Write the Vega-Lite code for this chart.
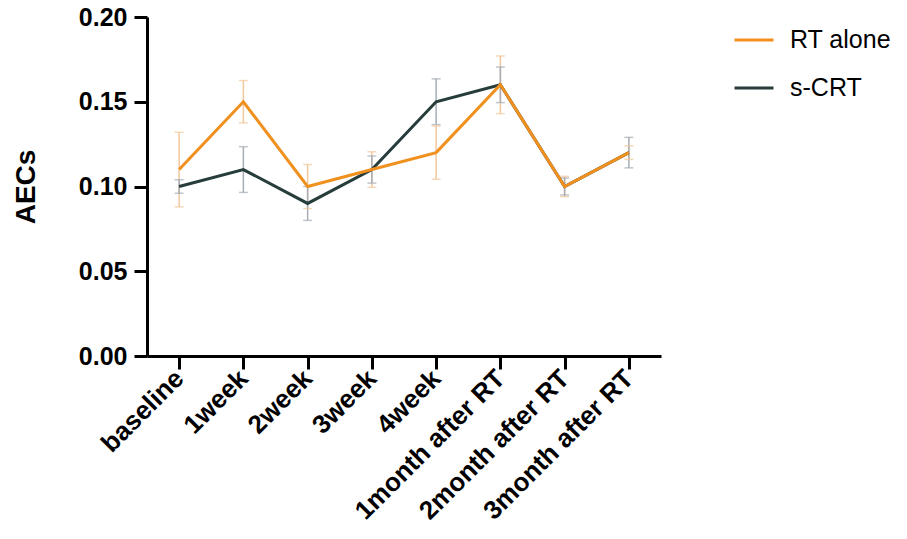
{
  "$schema": "https://vega.github.io/schema/vega-lite/v6.json",
  "autosize": "none",
  "width": 514,
  "height": 339,
  "padding": {"left": 147, "top": 17, "right": 246, "bottom": 183},
  "background": "white",
  "config": {
    "font": "Liberation Sans",
    "view": {"stroke": null}
  },
  "data": {
    "values": [
      {"time": "baseline", "group": "RT alone", "mean": 0.11, "lower": 0.088, "upper": 0.132},
      {"time": "1week", "group": "RT alone", "mean": 0.15, "lower": 0.1375, "upper": 0.1625},
      {"time": "2week", "group": "RT alone", "mean": 0.10, "lower": 0.087, "upper": 0.113},
      {"time": "3week", "group": "RT alone", "mean": 0.11, "lower": 0.0995, "upper": 0.1205},
      {"time": "4week", "group": "RT alone", "mean": 0.12, "lower": 0.1043, "upper": 0.1357},
      {"time": "1month after RT", "group": "RT alone", "mean": 0.16, "lower": 0.143, "upper": 0.177},
      {"time": "2month after RT", "group": "RT alone", "mean": 0.10, "lower": 0.094, "upper": 0.106},
      {"time": "3month after RT", "group": "RT alone", "mean": 0.12, "lower": 0.116, "upper": 0.124},
      {"time": "baseline", "group": "s-CRT", "mean": 0.10, "lower": 0.096, "upper": 0.104},
      {"time": "1week", "group": "s-CRT", "mean": 0.11, "lower": 0.0965, "upper": 0.1235},
      {"time": "2week", "group": "s-CRT", "mean": 0.09, "lower": 0.08, "upper": 0.10},
      {"time": "3week", "group": "s-CRT", "mean": 0.11, "lower": 0.102, "upper": 0.118},
      {"time": "4week", "group": "s-CRT", "mean": 0.15, "lower": 0.1365, "upper": 0.1635},
      {"time": "1month after RT", "group": "s-CRT", "mean": 0.16, "lower": 0.1495, "upper": 0.1705},
      {"time": "2month after RT", "group": "s-CRT", "mean": 0.10, "lower": 0.095, "upper": 0.105},
      {"time": "3month after RT", "group": "s-CRT", "mean": 0.12, "lower": 0.111, "upper": 0.129}
    ]
  },
  "encoding": {
    "x": {
      "field": "time",
      "type": "nominal",
      "sort": ["baseline", "1week", "2week", "3week", "4week", "1month after RT", "2month after RT", "3month after RT"],
      "scale": {"type": "point", "padding": 0.5},
      "axis": {
        "title": null,
        "domainColor": "black",
        "domainWidth": 3,
        "tickColor": "black",
        "tickWidth": 3,
        "tickSize": 13,
        "labelAngle": -45,
        "labelAlign": "right",
        "labelBaseline": "middle",
        "labelFontSize": 26,
        "labelFontWeight": "bold",
        "labelColor": "black",
        "labelPadding": 5,
        "labelLimit": 0
      }
    }
  },
  "layer": [
    {
      "mark": {"type": "rule", "strokeWidth": 1.5},
      "encoding": {
        "y": {"field": "lower", "type": "quantitative"},
        "y2": {"field": "upper"},
        "color": {"condition": {"test": "datum.group === 'RT alone'", "value": "#f2c79c"}, "value": "#a6adb5"}
      }
    },
    {
      "mark": {"type": "tick", "orient": "horizontal", "size": 9, "thickness": 1.5},
      "encoding": {
        "y": {"field": "lower", "type": "quantitative"},
        "color": {"condition": {"test": "datum.group === 'RT alone'", "value": "#f2c79c"}, "value": "#a6adb5"}
      }
    },
    {
      "mark": {"type": "tick", "orient": "horizontal", "size": 9, "thickness": 1.5},
      "encoding": {
        "y": {"field": "upper", "type": "quantitative"},
        "color": {"condition": {"test": "datum.group === 'RT alone'", "value": "#f2c79c"}, "value": "#a6adb5"}
      }
    },
    {
      "transform": [{"filter": "datum.group === 's-CRT'"}],
      "mark": {"type": "line", "strokeWidth": 3},
      "encoding": {
        "y": {"field": "mean", "type": "quantitative"},
        "color": {"field": "group", "type": "nominal", "scale": {"domain": ["RT alone", "s-CRT"], "range": ["#f0901e", "#263d3b"]}}
      }
    },
    {
      "transform": [{"filter": "datum.group === 'RT alone'"}],
      "mark": {"type": "line", "strokeWidth": 3},
      "encoding": {
        "y": {
          "field": "mean",
          "type": "quantitative",
          "scale": {"domain": [0, 0.2]},
          "axis": {
            "title": "AECs",
            "titleFontSize": 28,
            "titleFontWeight": "bold",
            "titleColor": "black",
            "titlePadding": 38,
            "values": [0, 0.05, 0.1, 0.15, 0.2],
            "format": ".2f",
            "grid": false,
            "domainColor": "black",
            "domainWidth": 3,
            "tickColor": "black",
            "tickWidth": 3,
            "tickSize": 13,
            "labelFontSize": 25,
            "labelFontWeight": "bold",
            "labelColor": "black",
            "labelPadding": 7
          }
        },
        "color": {
          "field": "group",
          "type": "nominal",
          "scale": {"domain": ["RT alone", "s-CRT"], "range": ["#f0901e", "#263d3b"]},
          "legend": {
            "title": null,
            "orient": "none",
            "legendX": 586,
            "legendY": 2,
            "symbolType": "stroke",
            "symbolSize": 1521,
            "symbolStrokeWidth": 3,
            "labelFontSize": 25,
            "labelColor": "black",
            "labelOffset": 15,
            "rowPadding": 14
          }
        }
      }
    }
  ]
}
